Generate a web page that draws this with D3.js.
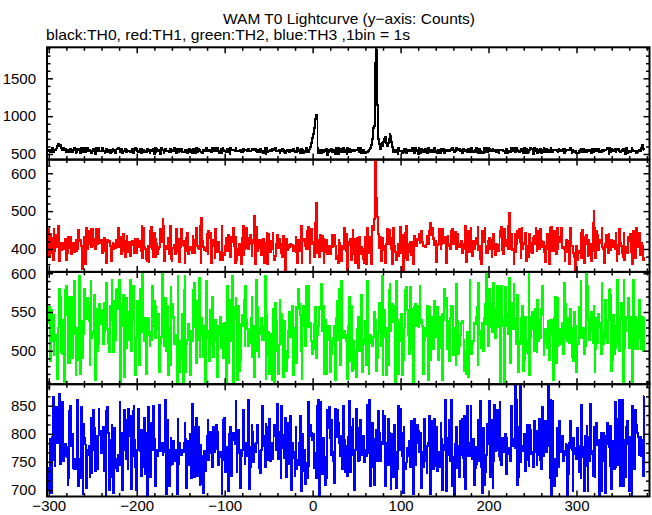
<!DOCTYPE html>
<html><head><meta charset="utf-8">
<script src="https://cdn.jsdelivr.net/npm/d3@7"></script>
<style>body{margin:0;background:#fff}svg{display:block}</style>
</head><body>
<svg id="c" width="652" height="515"></svg>
<script>
// ---- data ----
const tStart = -300;   // time of first bin (s)
const binSize = 1;     // 1bin = 1s

const th0 = [
525,547,523,541,583,529,552,550,551,573,604,630,602,626,576,563,552,582,550,562,
529,554,544,539,532,568,541,527,552,578,555,515,526,561,567,547,517,575,564,522,
546,581,530,572,581,533,558,553,531,510,543,570,538,504,575,560,535,580,543,541,
541,583,533,544,507,554,571,522,554,549,509,557,526,564,557,538,506,559,572,574,
564,557,526,573,513,538,537,570,530,550,538,546,536,529,520,566,509,549,552,574,
570,536,525,537,573,506,564,552,553,526,541,526,570,533,544,509,551,554,538,566,
504,581,532,567,543,540,560,504,578,547,555,510,543,570,535,533,542,520,563,530,
550,536,541,580,549,506,571,528,526,567,537,571,529,529,520,560,541,555,515,526,
567,547,531,515,527,566,516,517,581,532,565,552,536,529,531,510,547,547,541,577,
554,543,540,557,535,524,580,537,559,578,549,535,581,544,513,532,571,517,577,554,
543,546,526,561,571,531,504,575,558,546,551,552,541,581,539,538,543,540,558,528,
526,567,538,558,546,554,537,570,533,539,533,554,564,549,554,568,542,522,552,552,
527,564,528,538,516,517,586,504,584,525,541,546,554,537,565,546,551,546,583,533,
538,540,560,513,538,537,564,558,531,512,541,549,544,541,529,551,554,537,570,536,
526,539,530,581,535,560,507,563,529,560,515,532,535,584,525,547,528,572,595,640,
710,770,840,960,1020,985,585,509,551,560,509,555,542,523,547,543,561,480,520,560,
537,561,571,523,552,538,504,583,538,504,577,557,526,570,524,583,530,549,549,504,
584,520,564,523,550,535,554,544,535,549,554,559,583,530,541,586,513,535,560,518,
516,529,526,539,544,560,575,620,700,840,870,1700,1890,1870,1150,700,630,565,600,640,
610,660,700,730,640,605,650,700,760,740,660,590,523,553,529,522,560,504,580,544,
539,544,510,544,563,527,566,513,535,552,544,558,541,578,541,584,517,578,550,544,
504,583,536,519,564,558,529,520,561,532,571,517,581,541,529,558,529,520,552,581,
542,531,510,553,529,519,565,549,537,573,507,560,543,540,557,533,533,552,572,577,
557,527,560,535,578,546,549,561,536,553,519,561,565,544,558,552,527,563,532,537,
559,584,528,535,527,552,581,532,571,519,568,544,516,529,517,580,535,584,528,524,
574,568,539,535,549,561,539,535,557,532,543,549,509,552,546,551,554,544,544,506,
564,560,515,536,526,530,580,535,580,540,555,530,578,552,535,532,538,561,533,564,
517,586,507,566,515,536,520,552,574,564,560,504,580,544,533,566,515,527,555,566,
510,550,530,583,536,520,564,520,557,557,524,581,542,520,557,549,558,552,533,532,
567,540,549,560,537,571,519,567,540,549,557,551,546,580,549,510,553,526,541,538,
518,518,510,546,548,571,528,527,564,525,541,552,529,555,536,546,560,506,570,527,
555,554,565,544,555,564,526,538,546,527,558,544,555,554,559,577,560,504,584,520,
561,535,555,533,564,520,554,562,563,536,525,540,548,567,543,549,504,586,516,528,
535,532,535,578,550,538,544,544,516,525,540,552,549,535,578,625,565,550];

const th1 = [
455,378,440,388,429,371,452,395,437,406,406,461,367,406,417,396,400,415,399,426,
370,388,432,427,403,432,386,400,417,392,417,423,395,400,450,422,425,409,346,395,
403,433,359,456,399,412,447,439,453,406,453,409,427,400,452,417,412,452,415,424,
423,390,422,430,395,414,362,424,417,421,408,368,400,415,400,414,403,425,406,455,
406,409,432,386,395,440,400,380,420,435,417,393,419,382,417,420,411,390,427,411,
390,427,405,417,421,394,460,377,456,405,401,373,368,408,365,406,447,458,400,378,
442,380,427,413,386,400,406,452,417,423,478,461,367,409,400,409,430,387,461,373,
368,403,402,411,387,453,417,392,426,365,406,453,411,421,408,362,428,395,442,386,
405,396,405,388,434,423,390,419,455,409,402,400,461,362,482,421,405,396,403,395,
440,387,448,430,443,362,425,415,407,377,453,417,393,419,391,372,377,461,372,390,
383,409,428,395,438,402,413,378,432,419,456,408,362,433,370,400,383,414,414,360,
429,460,385,400,447,456,402,401,430,437,413,382,415,425,486,359,458,395,408,403,
424,425,385,405,426,364,417,413,443,360,440,398,392,420,401,443,373,372,382,413,
437,403,422,427,413,390,378,435,415,342,427,411,396,402,406,414,408,411,395,409,
397,432,391,362,425,415,394,461,362,422,422,427,408,400,447,458,401,364,412,453,
412,419,380,470,521,390,424,425,378,438,395,434,426,364,423,392,425,386,403,407,
386,395,437,406,407,438,408,373,381,362,425,417,401,367,408,400,456,403,395,440,
345,418,411,426,370,387,450,424,426,364,415,428,349,432,390,386,405,401,373,362,
433,359,456,405,388,432,433,359,460,450,480,645,645,535,485,440,403,433,367,403,
430,396,408,364,412,452,412,450,422,430,401,359,456,407,391,372,385,413,382,412,
458,388,438,342,413,442,377,461,370,393,412,419,383,419,391,360,434,418,409,427,
423,439,415,440,448,418,408,408,406,411,435,414,413,447,468,438,455,426,429,411,
420,365,411,412,453,415,399,412,452,415,422,433,362,420,435,414,408,400,447,452,
412,433,444,415,399,441,405,413,404,420,388,406,414,400,461,365,406,448,392,419,
456,407,382,421,399,413,430,429,458,396,408,373,359,448,432,419,456,407,388,390,
422,428,399,425,380,420,440,400,383,414,411,395,400,447,431,458,398,387,453,409,
424,421,400,460,495,401,440,398,401,360,440,392,412,448,429,453,419,377,456,399,
417,413,443,368,403,407,378,440,393,417,388,430,434,412,456,394,448,437,400,452,
420,405,418,419,391,365,407,440,401,359,456,394,458,396,394,448,440,387,455,401,
430,432,419,456,403,405,401,368,399,423,393,420,359,455,408,409,407,390,380,341,
408,372,388,396,395,442,377,450,433,364,413,437,413,382,425,385,414,368,394,470,
500,455,377,448,438,397,424,415,419,456,405,401,364,413,438,405,388,440,396,397,
424,420,405,420,401,443,367,411,387,453,415,407,390,378,443,370,396,405,388,432,
420,440,393,420,359,448,442,377,455,406,412,407,442,383,415,408,372,380];

const th2 = [
534,556,486,552,512,546,494,518,520,514,464,530,580,570,498,496,504,540,458,578,
584,546,484,570,484,556,570,490,522,590,524,468,530,488,530,596,470,514,538,490,
522,580,556,541,568,562,538,482,590,516,522,524,572,462,554,500,552,508,560,536,
534,552,508,562,524,554,588,528,510,498,558,540,592,510,498,564,514,578,580,554,
592,514,460,560,532,572,466,524,568,504,526,550,514,592,500,540,584,546,500,468,
516,564,530,482,580,564,524,602,526,512,542,470,520,542,520,506,524,514,584,532,
564,516,558,548,528,548,472,508,518,602,544,506,516,568,500,558,468,530,482,582,
542,560,544,508,520,514,458,596,476,472,512,488,548,458,578,596,472,508,514,534,
524,468,526,512,530,578,588,530,484,564,514,594,492,520,542,522,492,532,458,590,
516,526,522,486,552,508,570,492,526,512,540,532,466,532,520,544,504,534,522,490,
536,514,458,584,546,484,566,512,530,596,460,556,541,568,558,462,558,474,488,534,
546,532,566,506,584,540,528,506,526,510,542,570,492,532,466,522,592,500,556,492,
522,528,542,514,532,514,596,464,546,494,524,470,522,500,462,554,514,460,562,538,
500,470,508,566,510,548,540,466,538,500,474,498,490,526,550,518,544,558,468,530,
486,556,484,554,580,560,546,500,464,532,558,552,506,584,530,584,538,530,536,512,
496,502,534,556,490,532,520,532,556,554,586,526,558,470,514,540,470,514,532,532,
472,512,496,508,516,532,462,542,564,514,580,570,482,590,518,516,526,520,512,500,
464,532,570,486,558,474,496,512,500,476,466,528,544,500,542,556,572,472,508,514,
538,482,590,524,470,518,520,510,506,518,550,522,540,474,490,524,562,534,506,596,
468,518,552,524,468,530,482,578,586,526,544,561,537,558,458,590,514,540,470,512,
536,548,468,530,488,530,578,582,552,520,496,582,554,504,540,460,556,560,532,558,
546,530,584,536,540,532,470,514,530,519,526,558,462,556,488,544,510,502,532,564,
524,518,556,488,544,504,528,548,462,540,580,556,568,502,538,531,486,542,558,556,
494,516,530,482,586,538,496,506,520,536,538,536,514,474,500,470,524,466,522,592,
512,496,508,512,536,534,544,556,482,588,526,520,504,536,500,542,560,534,600,534,
506,580,562,530,524,554,588,524,516,554,584,530,582,558,458,584,540,532,458,582,
548,532,522,522,594,484,562,528,530,586,528,542,508,572,472,508,512,542,510,558,
474,488,544,512,498,496,599,468,518,544,550,528,500,554,510,498,566,512,540,516,
554,584,546,494,516,528,510,504,538,488,540,524,522,540,462,542,570,484,568,506,
524,528,508,514,536,496,588,516,560,542,512,542,510,554,512,492,530,486,550,532,
472,508,508,556,554,590,516,524,530,496,506,600,540,584,542,514,526,550,526,510,
558,472,502,542,510,548,530,536,496,588,524,509,516,566,518,510,540,578,580,572,
474,488,546,496,504,532,514,592,510,500,542,562,540,458,592,504,526,544,542,568,
504,528,544,514,458,592,502,544,510,502,540,516,566,520,502,544,500,544];

const th3 = [
741,700,791,695,794,866,754,742,794,848,783,811,871,747,773,811,857,751,760,782,
777,758,709,721,841,850,778,799,739,737,756,737,738,861,707,756,721,848,801,693,
818,792,781,704,762,772,779,723,829,730,771,843,811,734,758,797,738,845,798,805,
765,798,812,734,771,691,841,848,801,700,789,723,815,784,695,810,756,739,734,762,
761,857,745,801,700,771,843,824,755,810,738,845,796,831,702,761,841,850,789,741,
700,771,845,807,769,725,807,767,740,829,728,801,691,848,794,769,723,820,771,850,
791,707,749,772,760,771,852,770,780,784,762,768,781,861,693,824,771,707,745,792,
777,747,787,754,751,771,693,827,747,784,764,762,772,768,783,820,791,704,760,787,
745,799,721,854,769,739,723,813,829,725,812,741,709,781,711,760,694,769,734,755,
796,824,753,765,803,787,740,813,768,790,773,815,803,744,764,767,758,693,824,753,
829,732,777,758,698,799,725,812,725,798,801,788,781,859,732,765,807,771,704,760,
771,843,827,747,784,762,761,861,702,777,740,815,803,750,782,768,783,815,807,769,
739,730,771,850,778,797,740,818,794,753,813,827,751,760,784,755,796,815,803,771,
854,755,803,789,721,850,775,798,756,829,723,820,775,798,746,831,700,784,767,756,
725,812,737,754,745,783,831,698,788,799,734,771,711,749,721,857,742,796,815,801,
788,799,739,766,721,850,771,861,691,857,756,728,792,777,758,709,721,843,811,848,
792,763,824,767,751,712,845,794,843,820,784,760,778,797,738,850,789,732,779,739,
725,794,859,732,763,813,827,758,700,771,845,810,751,753,824,764,762,768,797,749,
772,761,852,765,794,861,707,740,820,791,709,730,775,807,751,841,802,751,786,781,
841,793,831,707,745,783,827,745,801,702,768,799,723,815,764,704,767,738,850,771,
845,801,761,695,812,739,737,749,774,760,787,740,822,774,771,693,827,745,783,815,
805,768,788,801,704,767,740,827,751,769,730,778,783,831,693,822,779,737,740,827,
742,812,734,767,754,740,820,791,700,780,771,861,698,792,772,763,824,751,861,707,
758,689,782,765,812,739,779,723,822,763,827,756,723,831,702,761,850,784,760,771,
850,780,755,791,709,739,777,747,773,824,751,859,741,695,810,758,709,732,763,818,
781,859,723,824,771,704,751,852,770,771,843,822,761,857,754,745,792,772,768,799,
728,792,772,774,764,751,850,778,788,790,775,887,861,709,723,813,889,749,772,770,
778,799,734,753,815,801,743,815,807,764,767,740,822,768,790,745,805,763,827,754,
738,848,788,760,773,822,768,790,888,779,721,861,691,859,741,707,756,725,810,754,
740,822,768,788,797,751,762,770,782,781,690,728,783,822,774,771,698,792,774,764,
755,810,756,732,779,721,852,777,758,698,797,742,814,698,794,751,854,764,769,725,
812,723,813,820,780,789,689,758,801,698,788,801,751,695,796,820,782,777,742,814,
702,770,787,738,857,740,827,745,781,861,707,738,861,707,747,789,723,813,822,781,
698,794,771,691,850,787,738,843,815,801,794,762,768,794,760,789,725,868];

const seriesColors = ["#000000", "#ff0000", "#00ff00", "#0000ff"];
const yDomains = [[426, 1910], [339.5, 636], [456.7, 601.8], [688.4, 888.3]];
const yMajorTicks = [[500, 1000, 1500], [400, 500, 600], [500, 550, 600], [700, 750, 800, 850]];
const yMinorSteps = [100, 20, 10, 50 / 3];
const xDomain = [-302, 383];
const xMajorTicks = [-300, -200, -100, 0, 100, 200, 300];
const xTickLabels = ["\u2212300", "\u2212200", "\u2212100", "0", "100", "200", "300"];
const xMinorStep = 20;
const titleText = "WAM T0 Lightcurve (y\u2212axis: Counts)";
const subtitleText = "black:TH0, red:TH1, green:TH2, blue:TH3 ,1bin = 1s";

// ---- layout ----
const FONT = "'Liberation Sans', Arial, Helvetica, sans-serif";
const svg = d3.select("#c");
const left = 47, right = 649.5, top0 = 47.3, panelH = 112.3;
const x = d3.scaleLinear().domain(xDomain).range([left, right]);
const series = [th0, th1, th2, th3];

svg.append("text").attr("x", 349).attr("y", 23.5).attr("text-anchor", "middle")
  .attr("font-family", FONT).attr("font-size", 15).attr("textLength", 252)
  .attr("lengthAdjust", "spacingAndGlyphs").text(titleText);
svg.append("text").attr("x", 46).attr("y", 39.5)
  .attr("font-family", FONT).attr("font-size", 15).attr("textLength", 364)
  .attr("lengthAdjust", "spacingAndGlyphs").text(subtitleText);

const xMinor = d3.range(-300, xDomain[1], xMinorStep).filter(v => !xMajorTicks.includes(v));

series.forEach((vals, p) => {
  const top = top0 + p * panelH, bot = top + panelH;
  const y = d3.scaleLinear().domain(yDomains[p]).range([bot, top]);
  const g = svg.append("g");
  const cid = "clip" + p;
  svg.append("clipPath").attr("id", cid).append("rect")
    .attr("x", left).attr("y", top).attr("width", right - left).attr("height", bot - top);

  const line = d3.line()
    .x((d, i) => x(tStart + i * binSize))
    .y(d => y(d))
    .curve(d3.curveStep);
  g.append("path").datum(vals).attr("clip-path", `url(#${cid})`)
    .attr("fill", "none").attr("stroke", seriesColors[p])
    .attr("stroke-width", 1.9).attr("shape-rendering", "crispEdges").attr("d", line);

  const [d0, d1] = yDomains[p];
  const st = yMinorSteps[p];
  const base = yMajorTicks[p][0];
  const yMinor = [];
  for (let k = -40; k < 200; k++) {
    const v = base + k * st;
    if (v > d0 && v < d1 && !yMajorTicks[p].some(m => Math.abs(m - v) < 1e-6)) yMinor.push(v);
  }

  const styleAxis = sel => {
    sel.select(".domain").remove();
    sel.selectAll(".tick line").attr("stroke", "#000").attr("stroke-width", 1.5);
    sel.attr("font-family", FONT).attr("font-size", 15);
    sel.selectAll(".tick text").attr("fill", "#000");
  };

  g.append("g").attr("transform", `translate(${left},0)`)
    .call(d3.axisLeft(y).tickValues(yMajorTicks[p]).tickSize(-6).tickPadding(11).tickFormat(d => d))
    .call(styleAxis);
  g.append("g").attr("transform", `translate(${left},0)`)
    .call(d3.axisLeft(y).tickValues(yMinor).tickSize(-3.5).tickFormat(""))
    .call(styleAxis);
  g.append("g").attr("transform", `translate(${right},0)`)
    .call(d3.axisRight(y).tickValues(yMajorTicks[p]).tickSize(-6).tickFormat(""))
    .call(styleAxis);
  g.append("g").attr("transform", `translate(${right},0)`)
    .call(d3.axisRight(y).tickValues(yMinor).tickSize(-3.5).tickFormat(""))
    .call(styleAxis);
  g.append("g").attr("transform", `translate(0,${top})`)
    .call(d3.axisTop(x).tickValues(xMajorTicks).tickSize(-6).tickFormat(""))
    .call(styleAxis);
  g.append("g").attr("transform", `translate(0,${top})`)
    .call(d3.axisTop(x).tickValues(xMinor).tickSize(-3.5).tickFormat(""))
    .call(styleAxis);
  g.append("g").attr("transform", `translate(0,${bot})`)
    .call(d3.axisBottom(x).tickValues(xMajorTicks).tickSize(-6).tickPadding(4)
      .tickFormat((d, i) => p === 3 ? xTickLabels[i] : ""))
    .call(styleAxis);
  g.append("g").attr("transform", `translate(0,${bot})`)
    .call(d3.axisBottom(x).tickValues(xMinor).tickSize(-3.5).tickFormat(""))
    .call(styleAxis);

  g.append("rect").attr("x", left).attr("y", top).attr("width", right - left)
    .attr("height", bot - top).attr("fill", "none").attr("stroke", "#000").attr("stroke-width", 2);
});
</script>
</body></html>
